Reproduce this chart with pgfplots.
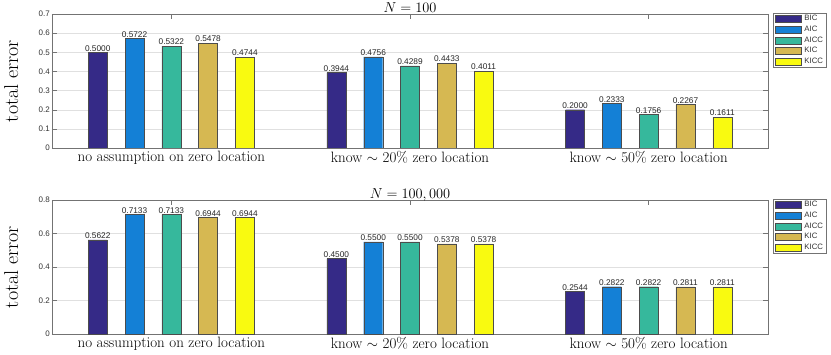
\documentclass[border=0pt]{standalone}
\usepackage{fontspec}
\usepackage{pgfplots}
\pgfplotsset{compat=1.18}
\newfontfamily\arial{Liberation Sans}

\definecolor{cBIC}{RGB}{53,42,135}
\definecolor{cAIC}{RGB}{20,128,214}
\definecolor{cAICC}{RGB}{54,184,156}
\definecolor{cKIC}{RGB}{214,184,82}
\definecolor{cKICC}{RGB}{249,250,16}

\pgfplotsset{
  errpanel/.style={
    scale only axis, width=716pt, height=134pt,
    ybar=17.8pt, bar width=19pt,
    xmin=0.5, xmax=3.5, xtick={1,2,3},
    xticklabels={no assumption on zero location,
                 know $\sim$ 20\% zero location,
                 know $\sim$ 50\% zero location},
    ymin=0,
    ymajorgrids, major grid style={black!12},
    axis line style={black!55}, every tick/.style={black!55},
    tick align=inside, major tick length=5pt,
    /pgf/number format/assume math mode=true,
    /pgf/number format/fixed,
    yticklabel style={font=\arial\fontsize{8}{9}\selectfont, text=black!80, inner sep=2pt},
    xticklabel style={font=\fontsize{15}{17}\selectfont, inner sep=0pt, yshift=-3pt},
    ylabel={total error},
    ylabel style={font=\fontsize{20}{22}\selectfont,
                  at={(axis description cs:-0.057,0.5)}, anchor=center},
    % default title already carries yshift=6pt; net shift is 2pt
    title style={font=\fontsize{15}{17}\selectfont,
                 at={(axis description cs:0.5,1)}, anchor=base, yshift=-4pt, inner sep=0pt},
    nodes near coords,
    nodes near coords style={font=\arial\fontsize{8.3}{9}\selectfont, text=black!85,
                             inner sep=1pt, anchor=south,
                             /pgf/number format/fixed zerofill,
                             /pgf/number format/precision=4},
    legend cell align=left,
    legend style={at={(axis description cs:1,1)}, anchor=north west,
                  xshift=4.5pt, yshift=1pt, draw=black!55,
                  font=\arial\fontsize{7.8}{9}\selectfont, text=black!80,
                  inner xsep=2pt, inner ysep=1.5pt, row sep=2.6pt,
                  nodes={inner xsep=0.8pt, inner ysep=0.6pt},
                  /tikz/every odd column/.append style={column sep=2.5pt}},
  },
  barleg/.style={legend image code/.code={%
      \draw[##1] (0pt,-3.5pt) rectangle (26pt,3.5pt);}},
  bic/.style={fill=cBIC, draw=black!70, barleg},
  aic/.style={fill=cAIC, draw=black!70, barleg},
  aicc/.style={fill=cAICC, draw=black!70, barleg},
  kic/.style={fill=cKIC, draw=black!70, barleg},
  kicc/.style={fill=cKICC, draw=black!70, barleg},
}

\begin{document}
\begin{tikzpicture}
\useasboundingbox (0pt,0pt) rectangle (831pt,-354pt);

% N = 100
\begin{axis}[errpanel, at={(52pt,-14pt)}, anchor=north west,
    ymax=0.7, ytick={0,0.1,...,0.7},
    title={$N = 100$}]
  \addplot[bic]  coordinates {(1,0.5000) (2,0.3944) (3,0.2000)};
  \addplot[aic]  coordinates {(1,0.5722) (2,0.4756) (3,0.2333)};
  \addplot[aicc] coordinates {(1,0.5322) (2,0.4289) (3,0.1756)};
  \addplot[kic]  coordinates {(1,0.5478) (2,0.4433) (3,0.2267)};
  \addplot[kicc] coordinates {(1,0.4744) (2,0.4011) (3,0.1611)};
  \legend{BIC,AIC,AICC,KIC,KICC}
\end{axis}

% N = 100,000
\begin{axis}[errpanel, at={(52pt,-200pt)}, anchor=north west,
    ymax=0.8, ytick={0,0.2,...,0.8},
    title={$N = 100,000$}]
  \addplot[bic]  coordinates {(1,0.5622) (2,0.4500) (3,0.2544)};
  \addplot[aic]  coordinates {(1,0.7133) (2,0.5500) (3,0.2822)};
  \addplot[aicc] coordinates {(1,0.7133) (2,0.5500) (3,0.2822)};
  \addplot[kic]  coordinates {(1,0.6944) (2,0.5378) (3,0.2811)};
  \addplot[kicc] coordinates {(1,0.6944) (2,0.5378) (3,0.2811)};
  \legend{BIC,AIC,AICC,KIC,KICC}
\end{axis}
\end{tikzpicture}
\end{document}
